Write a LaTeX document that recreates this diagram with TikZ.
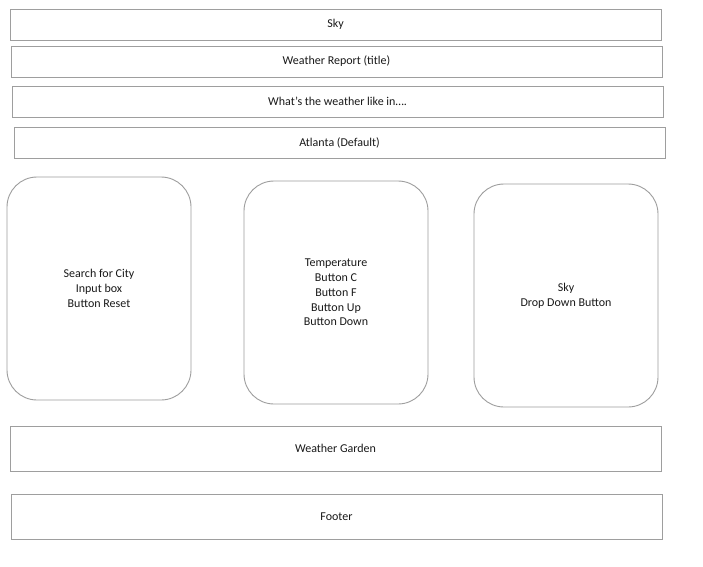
\documentclass[tikz,border=0pt]{standalone}
\usepackage{fontspec}
\setmainfont{Carlito}
\begin{document}
\begin{tikzpicture}[x=1pt,y=-1pt,
  bar/.style={draw=black!38,line width=0.9pt,fill=white,font=\fontsize{12}{14.7}\selectfont,inner sep=0pt,align=center,text=black!90},
  card/.style={bar,rounded corners=30pt}]
\useasboundingbox[fill=white] (0,0) rectangle (703,566);
\node[bar,minimum width=651pt,minimum height=31pt] (sky) at (335.5,24.5) {Sky};
\node[bar,minimum width=651pt,minimum height=31pt] (title) at (336.5,61.5) {Weather Report (title)};
\node[bar,minimum width=651pt,minimum height=31pt] (what) at (337.5,101.5) {What’s the weather like in….};
\node[bar,minimum width=651pt,minimum height=31pt] (atl) at (339.5,142.5) {Atlanta (Default)};
\node[card,minimum width=184pt,minimum height=223pt] (search) at (99,288.5) {Search for City\\Input box\\Button Reset};
\node[card,minimum width=184pt,minimum height=223pt] (temp) at (336,292.5) {Temperature\\Button C\\Button F\\Button Up\\Button Down};
\node[card,minimum width=184pt,minimum height=223pt] (skyc) at (566,295.5) {Sky\\Drop Down Button};
\node[bar,minimum width=651pt,minimum height=45pt] (garden) at (335.5,448.5) {Weather Garden};
\node[bar,minimum width=651pt,minimum height=45pt] (footer) at (336.5,516.5) {Footer};
\end{tikzpicture}
\end{document}
